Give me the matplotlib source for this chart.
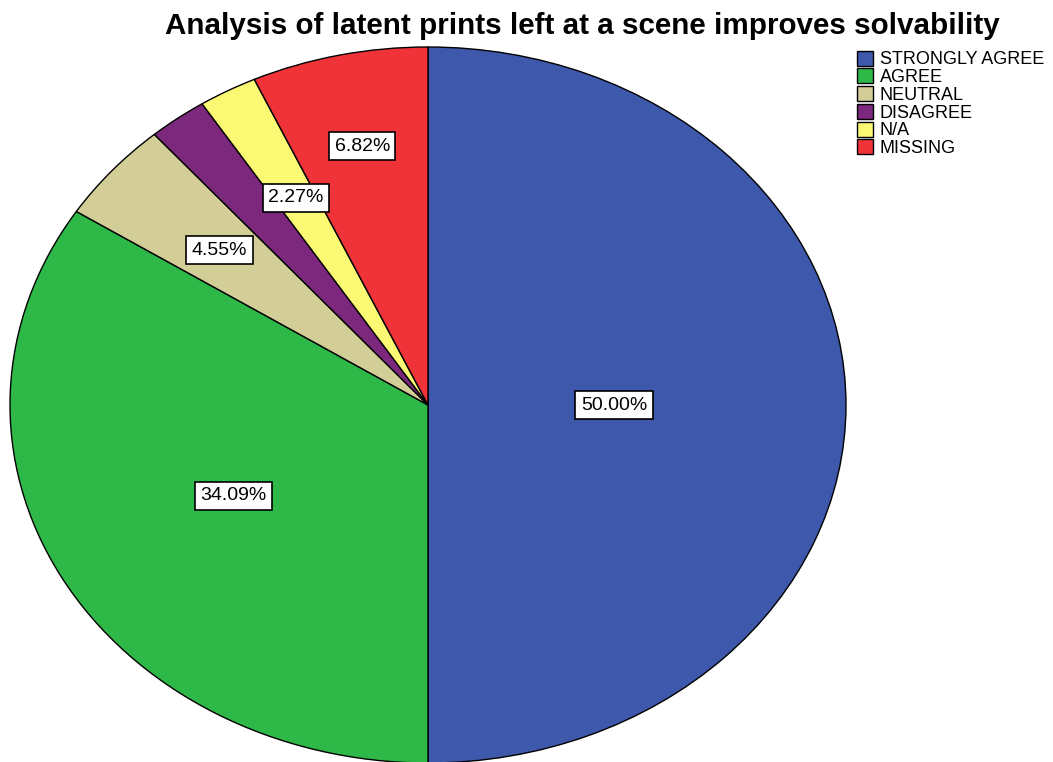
import matplotlib.pyplot as plt
import numpy as np

# values
categories = ['STRONGLY AGREE', 'AGREE', 'NEUTRAL', 'DISAGREE', 'N/A', 'MISSING']
percents = [50.00, 34.09, 4.55, 2.27, 2.27, 6.82]
colors = ['#3E58AC', '#2EB848', '#D3CE97', '#7B287D', '#FBF873', '#EF3338']
show_label = [True, True, True, False, True, True]
label_r = [0.445, 0.53, 0.66, 0.66, 0.66, 0.74]

plt.rcParams['font.family'] = ['Liberation Sans', 'DejaVu Sans']

fig = plt.figure(figsize=(10.53, 7.62), dpi=100)
ax = fig.add_axes([10/1053, -1/762, 836/1053, 716/762])

wedges, _ = ax.pie(percents, colors=colors, startangle=90, counterclock=False,
                   wedgeprops=dict(edgecolor='black', linewidth=1))
ax.set_aspect('auto')
ax.set_xlim(-1, 1)
ax.set_ylim(-1, 1)

for w, p, s, r in zip(wedges, percents, show_label, label_r):
    if not s:
        continue
    mid = np.deg2rad((w.theta1 + w.theta2) / 2)
    ax.text(r*np.cos(mid), r*np.sin(mid), '%.2f%%' % p, ha='center', va='center',
            fontsize=14,
            bbox=dict(boxstyle='square,pad=0.28', fc='white', ec='black', lw=1.2))

fig.text(0.553, 0.966, 'Analysis of latent prints left at a scene improves solvability',
         ha='center', va='center', fontsize=21.3, fontweight='bold')

leg = fig.legend(wedges, categories, loc='upper left', bbox_to_anchor=(0.807, 0.943),
                 frameon=False, fontsize=13, handlelength=0.9, handleheight=0.9,
                 handletextpad=0.35, labelspacing=0.0, borderaxespad=0)

fig.savefig('out.png', dpi=100)
